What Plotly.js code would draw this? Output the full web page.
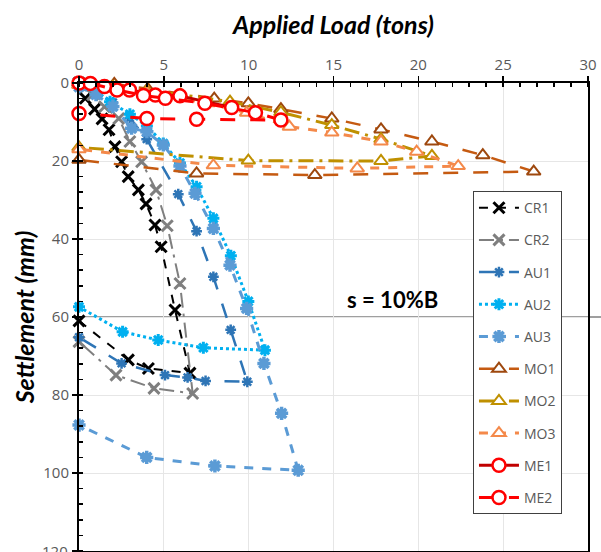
<!DOCTYPE html>
<html>
<head>
<meta charset="utf-8">
<script src="https://cdn.plot.ly/plotly-3.0.1.min.js"></script>
<style>html,body{margin:0;padding:0;background:#fff}#chart{width:601px;height:552px}</style>
</head>
<body>
<div id="chart"></div>
<script>
// Applied load (tons) and settlement (mm) per test
var seriesNames = ["CR1","CR2","AU1","AU2","AU3","MO1","MO2","MO3","ME1","ME2"];

var cr1Load   = [0, 0.37, 0.92, 1.36, 1.77, 2.12, 2.51, 2.9, 3.5, 3.95, 4.48, 4.84, 5.66, 6.54, 4.09, 2.91, 0];
var cr1Settle = [0, 3.9, 6.7, 9.2, 12, 16.3, 20.2, 24, 27.4, 31, 36.4, 42, 58.2, 74.4, 73.2, 71, 61];

var cr2Load   = [0, 0.8, 1.5, 2.34, 3.0, 3.69, 4.54, 5.2, 5.95, 6.7, 4.42, 2.18, 0];
var cr2Settle = [0, 3, 6.1, 9.1, 15, 20.2, 27.4, 36.6, 51.4, 79.6, 78.3, 74.9, 66.3];

var au1Load   = [0, 1, 2, 3, 3.99, 5.85, 6.93, 7.92, 8.94, 9.92, 7.46, 6.4, 5.07, 2.51, 0];
var au1Settle = [0.5, 2, 5, 9, 14.4, 28.5, 38, 49.7, 63.3, 76.6, 76.4, 75.5, 74.9, 71.9, 65.2];

var au2Load   = [0, 1, 1.83, 3, 4, 4.97, 5.95, 6.93, 7.92, 8.95, 9.98, 10.96, 7.33, 4.67, 2.57, 0];
var au2Settle = [0.5, 2, 4.8, 8, 11, 15.5, 20.5, 26.6, 34.7, 44.3, 56, 68.5, 67.9, 65.9, 63.8, 57.4];

var au3Load   = [0, 1, 2, 3.1, 4, 4.97, 5.95, 6.84, 7.92, 8.9, 9.88, 10.9, 11.94, 12.92, 8.01, 3.99, 0];
var au3Settle = [1, 3, 6, 11.6, 12.5, 15.9, 21.3, 28.3, 37.3, 46.7, 57.8, 71.9, 84.7, 99.3, 98.2, 96, 87.7];

var mo1Load   = [0, 2.08, 4.05, 7.97, 9.98, 11.9, 14.9, 17.8, 20.8, 23.8, 26.8, 13.9, 6.93, 0];
var mo1Settle = [0, 0.2, 1.5, 4.0, 5.2, 6.7, 9.1, 11.9, 15, 18.5, 22.7, 23.6, 23.2, 19.7];

var mo2Load   = [0, 2, 4, 6, 8.9, 11.9, 14.9, 17.8, 20.8, 17.8, 9.98, 0];
var mo2Settle = [0.5, 1, 2, 3, 4.8, 7.5, 10.8, 14.4, 18.7, 20.0, 19.9, 16.5];

var mo3Load   = [0, 2, 4, 7.6, 9.88, 12.4, 14.9, 17.8, 19.9, 22.35, 16.4, 7.92, 0];
var mo3Settle = [0.5, 1.5, 2.5, 5.2, 7.6, 11.2, 12.7, 15, 17.6, 21.3, 21.9, 21.1, 17];

var me1Load   = [0, 1.5, 2.98, 4.5, 5.95, 9.0];
var me1Settle = [0, 0.9, 1.8, 3.1, 3.3, 6.3];

var me2Load   = [0.67, 2.24, 3.8, 5.09, 7.42, 10.4, 11.9, 6.93, 4.0, 0];
var me2Settle = [0.1, 1.8, 3.2, 3.9, 5.2, 7.6, 9.5, 9.3, 9.1, 7.8];

var limitSettle = 60;
var limitLabel = "s = 10%B";

var xTicks = [0, 5, 10, 15, 20, 25, 30];
var yTicks = [0, 20, 40, 60, 80, 100, 120];

function tr(i, x, y, lineColor, dash, lw, sym, msize, mColor, mFill, mlw) {
  return {
    type: "scatter", mode: "lines+markers", name: seriesNames[i],
    x: x, y: y, legendgroup: "g" + i, cliponaxis: false,
    line: {color: lineColor, dash: dash, width: lw},
    marker: {symbol: sym, size: msize, color: mFill, line: {color: mColor, width: mlw}}
  };
}

var data = [
  tr(0, cr1Load, cr1Settle, "#000000", "dash", 2, "x-thin", 11, "#000000", "#000000", 3),
  tr(1, cr2Load, cr2Settle, "#7F7F7F", "longdashdot", 2, "x-thin", 11, "#7F7F7F", "#7F7F7F", 3),
  tr(2, au1Load, au1Settle, "#2E75B6", "longdash", 2.5, "asterisk", 9, "#2E75B6", "#2E75B6", 2.5),
  tr(3, au2Load, au2Settle, "#00B0F0", "dot", 3, "asterisk", 10, "#00B0F0", "#00B0F0", 3),
  tr(4, au3Load, au3Settle, "#5B9BD5", "dash", 3, "asterisk", 11, "#5B9BD5", "#5B9BD5", 3.5),
  tr(5, mo1Load, mo1Settle, "#C55A11", "longdash", 2.5, "triangle-up", 12, "#9E480E", "#ffffff", 2),
  tr(6, mo2Load, mo2Settle, "#BF9000", "longdashdot", 3, "triangle-up", 12, "#BF9000", "#ffffff", 2),
  tr(7, mo3Load, mo3Settle, "#F4894A", "dash", 3, "triangle-up", 12, "#F4894A", "#ffffff", 2),
  tr(8, me1Load, me1Settle, "#C00000", "solid", 3, "circle", 13, "#FF0000", "#ffffff", 2.5),
  tr(9, me2Load, me2Settle, "#FF0000", "longdash", 3, "circle", 13, "#FF0000", "#ffffff", 2.5)
];

var tickFont = {family: "Open Sans, sans-serif", size: 15, color: "#595959"};
var titleFont = {family: "Lato, sans-serif", size: 25, color: "#000000", weight: "bold", style: "italic"};

var layout = {
  width: 601, height: 552,
  margin: {l: 79, r: 13, t: 83, b: 1},
  paper_bgcolor: "#ffffff", plot_bgcolor: "#ffffff",
  showlegend: true,
  xaxis: {
    side: "top", range: [0, 30], tickvals: xTicks, ticktext: xTicks.map(String),
    showline: true, linecolor: "#000000", linewidth: 2, mirror: true,
    ticks: "outside", ticklen: 5, tickcolor: "#000000", tickwidth: 1.5,
    minor: {dtick: 1, ticks: "inside", ticklen: 4, tickcolor: "#000000", showgrid: false},
    showgrid: true, gridcolor: "#E6E6E6", gridwidth: 1, zeroline: false,
    tickfont: tickFont,
    title: {text: "Applied Load (tons)", font: titleFont, standoff: 12}
  },
  yaxis: {
    range: [120, 0], tickvals: yTicks, ticktext: yTicks.map(String),
    showline: true, linecolor: "#000000", linewidth: 2, mirror: true,
    ticks: "outside", ticklen: 5, tickcolor: "#000000", tickwidth: 1.5,
    minor: {dtick: 4, ticks: "inside", ticklen: 4, tickcolor: "#000000", showgrid: false},
    showgrid: true, gridcolor: "#E6E6E6", gridwidth: 1, zeroline: false,
    tickfont: tickFont,
    title: {text: "Settlement (mm)", font: titleFont, standoff: 2}
  },
  legend: {
    x: 0.774, y: 0.769, xanchor: "left", yanchor: "top",
    bgcolor: "#ffffff", bordercolor: "#404040", borderwidth: 1,
    font: {family: "Open Sans, sans-serif", size: 14, color: "#595959"},
    tracegroupgap: 11, itemwidth: 40
  },
  shapes: [{
    type: "line", xref: "paper", yref: "paper",
    x0: 0, x1: 1.03, y0: 1 - limitSettle / 120, y1: 1 - limitSettle / 120,
    line: {color: "#7F7F7F", width: 1.5}, layer: "below"
  }],
  annotations: [{
    xref: "x", yref: "y", x: 18.5, y: limitSettle, yanchor: "bottom", xanchor: "center",
    yshift: 2, text: "<b>" + limitLabel + "</b>", showarrow: false,
    font: {family: "Lato, sans-serif", size: 22, color: "#000000"}
  }, {
    xref: "paper", yref: "y", x: 0, y: yTicks[yTicks.length - 1], xanchor: "right", yanchor: "middle",
    xshift: -9, text: String(yTicks[yTicks.length - 1]), showarrow: false, font: tickFont
  }]
};

Plotly.newPlot("chart", data, layout, {displayModeBar: false, staticPlot: true});
</script>
</body>
</html>
